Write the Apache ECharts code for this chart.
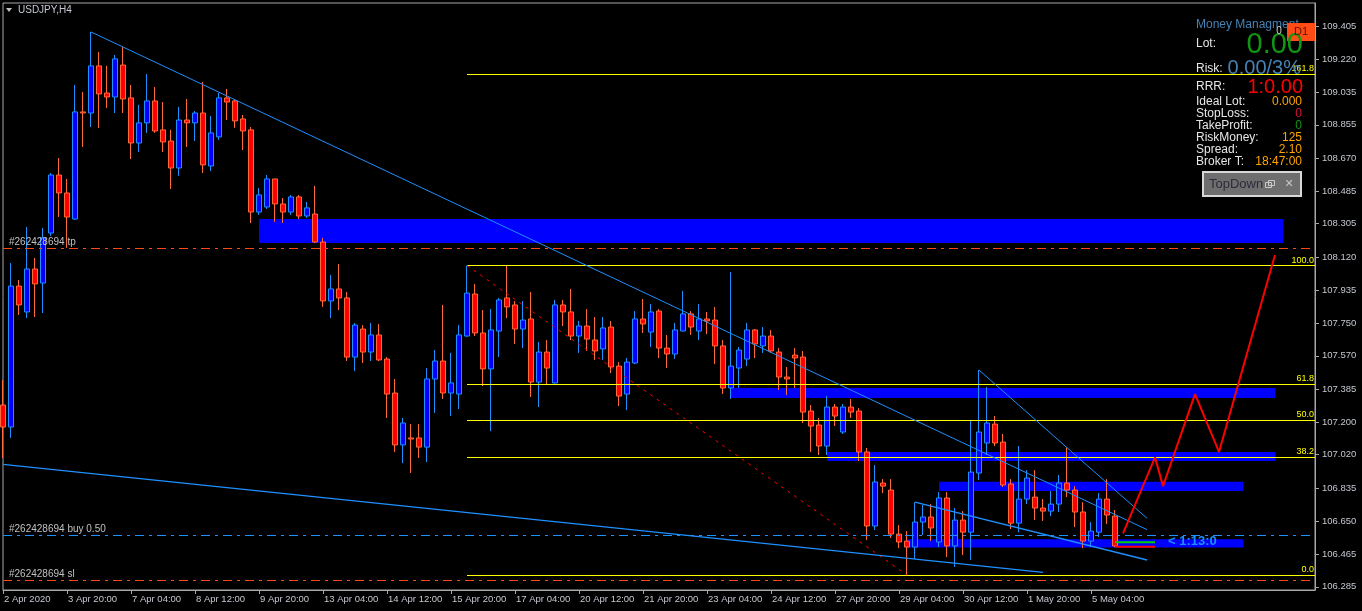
<!DOCTYPE html>
<html><head><meta charset="utf-8">
<script src="https://cdn.jsdelivr.net/npm/echarts@6/dist/echarts.min.js"></script>
<style>html,body{margin:0;padding:0;background:#000;}#c{width:1362px;height:611px;}</style>
</head><body><div id="c"></div>
<script>
// ---------- DATA ----------
const openP = [107.296,107.174,107.958,107.814,108.053,107.975,108.253,108.576,108.476,108.331,
108.927,108.921,109.183,109.032,109.010,109.188,109.005,108.754,108.866,108.988,
108.827,108.765,108.615,108.882,108.866,108.921,108.626,108.788,109.005,108.988,
108.888,108.827,108.370,108.398,108.554,108.415,108.370,108.454,108.348,108.359,
108.203,107.875,107.942,107.892,107.563,107.719,107.591,107.686,107.552,107.363,
107.074,107.113,107.113,107.062,107.441,107.541,107.363,107.357,107.680,107.914,
107.697,107.497,107.708,107.892,107.853,107.719,107.775,107.424,107.591,107.419,
107.853,107.814,107.680,107.736,107.658,107.608,107.730,107.513,107.357,107.530,
107.775,107.702,107.819,107.613,107.580,107.708,107.803,107.708,107.775,107.769,
107.625,107.391,107.502,107.552,107.714,107.625,107.680,107.591,107.452,107.574,
107.563,107.263,107.185,107.068,107.285,107.146,107.285,107.263,107.035,106.623,
106.862,106.823,106.578,106.539,106.506,106.645,106.673,106.534,106.779,106.512,
106.656,106.589,106.918,107.085,107.190,107.090,106.857,106.639,106.773,106.784,
106.723,106.706,106.745,106.862,106.823,106.701,106.539,106.589,106.773,106.678];
const highP = [107.435,108.086,107.992,108.287,108.114,108.281,108.587,108.671,108.554,109.077,
109.038,109.372,109.261,109.183,109.244,109.288,109.077,108.966,109.138,109.066,
108.982,108.827,108.955,108.999,108.932,109.094,108.904,109.032,109.055,108.999,
108.910,108.843,108.504,108.576,108.554,108.448,108.465,108.465,108.426,108.515,
108.226,108.020,108.081,107.925,107.753,107.741,107.753,107.747,107.563,107.441,
107.224,107.190,107.190,107.502,107.602,107.853,107.586,107.741,108.072,107.970,
107.825,107.830,107.892,108.070,107.875,107.875,107.925,107.647,107.658,107.881,
107.881,107.942,107.764,107.830,107.786,107.786,107.764,107.535,107.558,107.819,
107.886,107.858,107.830,107.686,107.753,107.931,107.819,107.858,107.814,107.842,
107.658,108.036,107.619,107.753,107.719,107.730,107.714,107.613,107.508,107.613,
107.597,107.296,107.224,107.346,107.302,107.302,107.330,107.280,107.057,106.962,
106.884,106.884,106.628,106.595,106.756,106.740,106.745,106.812,106.812,106.723,
106.706,107.207,107.491,107.396,107.235,107.135,106.884,107.068,106.934,106.934,
106.773,106.818,106.907,107.062,106.845,106.756,106.645,106.806,106.884,106.712];
const lowP = [107.001,107.113,107.797,107.780,107.786,107.808,108.237,108.342,108.170,108.326,
108.732,108.843,108.838,108.949,108.921,108.921,108.665,108.704,108.810,108.810,
108.704,108.498,108.571,108.732,108.765,108.587,108.598,108.771,108.882,108.838,
108.715,108.309,108.354,108.387,108.315,108.309,108.354,108.331,108.337,108.198,
107.842,107.780,107.825,107.541,107.485,107.530,107.541,107.541,107.224,107.035,
106.973,106.918,107.001,106.979,107.252,107.330,107.235,107.274,107.675,107.680,
107.402,107.151,107.563,107.780,107.636,107.613,107.341,107.285,107.413,107.416,
107.736,107.658,107.586,107.597,107.547,107.547,107.474,107.291,107.268,107.524,
107.697,107.619,107.558,107.502,107.552,107.705,107.686,107.658,107.691,107.524,
107.357,107.330,107.391,107.513,107.558,107.586,107.586,107.380,107.352,107.391,
107.196,107.035,107.018,107.018,107.179,107.135,107.224,106.985,106.545,106.601,
106.806,106.556,106.500,106.350,106.439,106.573,106.539,106.506,106.450,106.395,
106.461,106.434,106.879,107.018,107.068,106.840,106.606,106.589,106.745,106.656,
106.651,106.678,106.701,106.784,106.617,106.500,106.506,106.562,106.634,106.506];
const closeP = [107.174,107.958,107.853,108.053,107.970,108.226,108.576,108.476,108.342,108.927,
108.921,109.183,109.027,109.010,109.222,108.999,108.754,108.866,108.988,108.821,
108.760,108.615,108.882,108.866,108.921,108.632,108.810,109.005,108.982,108.877,
108.821,108.370,108.465,108.554,108.415,108.370,108.454,108.348,108.393,108.203,
107.875,107.942,107.892,107.563,107.741,107.591,107.686,107.547,107.357,107.074,
107.196,107.107,107.062,107.441,107.541,107.363,107.419,107.686,107.919,107.697,
107.497,107.714,107.881,107.842,107.719,107.769,107.424,107.591,107.502,107.853,
107.814,107.680,107.736,107.663,107.597,107.725,107.508,107.346,107.535,107.775,
107.747,107.814,107.613,107.580,107.714,107.803,107.730,107.775,107.764,107.625,
107.391,107.513,107.602,107.714,107.636,107.680,107.597,107.452,107.441,107.558,
107.257,107.179,107.068,107.285,107.235,107.285,107.257,107.035,106.623,106.868,
106.845,106.578,106.534,106.506,106.645,106.673,106.612,106.779,106.512,106.656,
106.589,106.923,107.146,107.196,107.085,106.851,106.639,106.773,106.890,106.723,
106.706,106.745,106.862,106.823,106.701,106.539,106.595,106.773,106.684,106.512];

const xLabels = ['2 Apr 2020','3 Apr 20:00','7 Apr 04:00','8 Apr 12:00','9 Apr 20:00','13 Apr 04:00',
'14 Apr 12:00','15 Apr 20:00','17 Apr 04:00','20 Apr 12:00','21 Apr 20:00','23 Apr 04:00',
'24 Apr 12:00','27 Apr 20:00','29 Apr 04:00','30 Apr 12:00','1 May 20:00','5 May 04:00'];
const labelEvery = 8;
const totalSlots = 165;
const yTicks = [106.285,106.465,106.650,106.835,107.020,107.200,107.385,107.570,107.750,107.935,
108.120,108.305,108.485,108.670,108.855,109.035,109.220,109.405];

// zones (blue rectangles)
const zoneFrom = [32, 91, 103, 117, 113];
const zoneTo   = [160, 159, 159, 155, 155];
const zoneHigh = [108.331, 107.391, 107.035, 106.869, 106.549];
const zoneLow  = [108.198, 107.335, 106.985, 106.818, 106.504];

// order lines
const tpPrice = 108.174, buyPrice = 106.571, slPrice = 106.322;
const orderText = ['#262428694 tp', '#262428694 buy 0.50', '#262428694 sl'];

// fibonacci
const fibFrom = 58, fibHigh = 108.072, fibLow = 106.350, fibEnd = 164;
const fibRatios = [0, 38.2, 50, 61.8, 100, 161.8];

// trend lines
const tl1 = [[11, 109.372], [143, 106.603]];
const tl2 = [[0, 106.966], [130, 106.365]];
const tlChannel = [[114, 106.756], [143, 106.434]];
const tl3 = [[122, 107.491], [143, 106.666]];
const fibBase = [[58, 108.072], [113, 106.350]];
const zigzag = [[140, 106.582], [144, 107.005], [145, 106.845], [149, 107.357], [152, 107.035], [159, 108.131]];
const greenMark = [[139, 106.532], [144, 106.532]];
const redMark = [[139, 106.508], [144, 106.508]];
const bidPrice = closeP[closeP.length - 1];

// ---------- CHART ----------
const cats = Array.from({length: totalSlots}, (_, i) => String(i));
const showIdx = (idx) => idx % labelEvery === 0 && idx / labelEvery < xLabels.length;
const FONT = 'Liberation Sans';
const axisCol = '#a8a8a8';
const txtCol = '#c4c8d0';

const candleData = openP.map((o, i) => [o, closeP[i], lowP[i], highP[i]]);

function lineSeries(data, color, width, type, z) {
  return { type: 'line', data: data, symbol: 'none', silent: true, z: z || 5,
    lineStyle: { color: color, width: width, type: type || 'solid' }, animation: false };
}

const chart = echarts.init(document.getElementById('c'), null, {renderer: 'canvas'});
const fibLines = fibRatios.map(r => {
  const lv = fibLow + (fibHigh - fibLow) * r / 100;
  return [{ coord: [fibFrom, lv], label: { formatter: r.toFixed(1) } }, { coord: [fibEnd, lv] }];
});

chart.setOption({
  backgroundColor: '#000',
  animation: false,
  grid: { left: 3, right: 47, top: 3, bottom: 21, show: true, borderColor: axisCol, borderWidth: 1, backgroundColor: '#000' },
  xAxis: {
    type: 'category', data: cats, boundaryGap: false,
    axisLine: { show: true, lineStyle: { color: axisCol } },
    axisTick: { show: true, interval: showIdx, length: 4, lineStyle: { color: axisCol } },
    axisLabel: { interval: showIdx, formatter: (v, idx) => xLabels[idx / labelEvery], color: txtCol,
      fontSize: 9.5, fontFamily: FONT, align: 'left', margin: 4, padding: [0, 0, 0, 1] },
    splitLine: { show: false }
  },
  yAxis: {
    type: 'value', position: 'right', min: 106.267, max: 109.533, scale: true,
    axisLine: { show: true, lineStyle: { color: axisCol } },
    axisTick: { show: true, customValues: yTicks, length: 4, lineStyle: { color: axisCol } },
    axisLabel: { customValues: yTicks, formatter: v => v.toFixed(3), color: txtCol, fontSize: 9.5, fontFamily: FONT, margin: 7 },
    splitLine: { show: false }
  },
  series: [
    { // blue zones
      type: 'line', data: [], z: 1, silent: true,
      markArea: { silent: true, itemStyle: { color: '#0000ff', opacity: 1 },
        data: zoneFrom.map((f, k) => [{ coord: [f, zoneHigh[k]] }, { coord: [zoneTo[k], zoneLow[k]] }]) }
    },
    { // order lines
      type: 'line', data: [], z: 2, silent: true,
      markLine: { silent: true, symbol: ['none', 'none'],
        label: { position: 'insideStartTop', color: '#c0c0c0', fontSize: 10, fontFamily: FONT, distance: [6, 1] },
        data: [
          { yAxis: tpPrice, label: { formatter: orderText[0] }, lineStyle: { color: '#ff4a14', width: 1, type: [9, 5, 3, 5] } },
          { yAxis: buyPrice, label: { formatter: orderText[1] }, lineStyle: { color: '#1e90ff', width: 1, type: [9, 5, 3, 5] } },
          { yAxis: slPrice, label: { formatter: orderText[2] }, lineStyle: { color: '#ff4a14', width: 1, type: [9, 5, 3, 5] } }
        ] }
    },
    {
      type: 'candlestick', data: candleData, barWidth: 5, z: 3, silent: true,
      itemStyle: { color: '#0000ff', color0: '#ff0000', borderColor: '#1e90ff', borderColor0: '#ff6a3a', borderWidth: 1 }
    },
    { // fib levels
      type: 'line', data: [], z: 4, silent: true,
      markLine: { silent: true, symbol: ['none', 'none'],
        lineStyle: { color: '#ffff00', width: 1, type: 'solid' },
        label: { position: 'insideEndTop', color: '#ffff00', fontSize: 9, fontFamily: FONT, distance: [1, 1] },
        data: fibLines }
    },
    lineSeries(fibBase, '#ff0000', 1, [3, 5], 5),
    lineSeries(tl1, '#1e90ff', 1, 'solid', 5),
    lineSeries(tl2, '#1e90ff', 1.4, 'solid', 5),
    lineSeries(tlChannel, '#1e90ff', 1.4, 'solid', 5),
    lineSeries(tl3, '#1e90ff', 1, 'solid', 5),
    lineSeries(zigzag, '#ff0000', 2, 'solid', 6),
    lineSeries(greenMark, '#00d000', 2, 'solid', 6),
    lineSeries(redMark, '#ff0000', 2, 'solid', 6),
    { // bid label
      type: 'line', data: [], z: 8, silent: true,
      markLine: { silent: true, symbol: ['none', 'none'], lineStyle: { opacity: 0 },
        label: { position: 'end', formatter: bidPrice.toFixed(3), backgroundColor: '#c0c0c0', color: '#000',
          fontSize: 9.5, fontFamily: FONT, padding: [2, 4, 1, 4], distance: 3 },
        data: [{ yAxis: bidPrice }] }
    }
  ],
  graphic: [
    { type: 'polygon', shape: { points: [[6, 8], [12, 8], [9, 12]] }, style: { fill: '#c0c0c0' }, z: 20 },
    { type: 'text', x: 18, y: 10, style: { text: 'USDJPY,H4', fill: txtCol, font: '10px ' + FONT, verticalAlign: 'middle' }, z: 20 },
    { type: 'text', x: 1196, y: 25, style: { text: 'Money Managment', fill: '#4682b4', font: '12px ' + FONT, verticalAlign: 'middle' }, z: 20 },
    { type: 'text', x: 1279, y: 31, style: { text: '0', fill: '#d0d0d0', font: '10px ' + FONT, verticalAlign: 'middle', align: 'center' }, z: 21 },
    { type: 'rect', shape: { x: 1287, y: 23, width: 28, height: 18 }, style: { fill: '#ff4c14' }, z: 20 },
    { type: 'text', x: 1301, y: 32, style: { text: 'D1', fill: '#5a1000', font: '11px ' + FONT, verticalAlign: 'middle', align: 'center' }, z: 21 },
    { type: 'text', x: 1196, y: 44, style: { text: 'Lot:', fill: '#e6e6e6', font: '12px ' + FONT, verticalAlign: 'middle' }, z: 20 },
    { type: 'text', x: 1303, y: 45, style: { text: '0.00', fill: '#129612', font: '29px ' + FONT, verticalAlign: 'middle', align: 'right' }, z: 20 },
    { type: 'text', x: 1196, y: 69, style: { text: 'Risk:', fill: '#e6e6e6', font: '12px ' + FONT, verticalAlign: 'middle' }, z: 20 },
    { type: 'text', x: 1301, y: 68, style: { text: '0.00/3%', fill: '#4682b4', font: '20px ' + FONT, verticalAlign: 'middle', align: 'right' }, z: 20 },
    { type: 'text', x: 1196, y: 87, style: { text: 'RRR:', fill: '#e6e6e6', font: '12px ' + FONT, verticalAlign: 'middle' }, z: 20 },
    { type: 'text', x: 1303, y: 87, style: { text: '1:0.00', fill: '#ff0000', font: '20px ' + FONT, verticalAlign: 'middle', align: 'right' }, z: 20 },
    { type: 'text', x: 1196, y: 102, style: { text: 'Ideal Lot:', fill: '#e6e6e6', font: '12px ' + FONT, verticalAlign: 'middle' }, z: 20 },
    { type: 'text', x: 1302, y: 102, style: { text: '0.000', fill: '#ffa500', font: '12px ' + FONT, verticalAlign: 'middle', align: 'right' }, z: 20 },
    { type: 'text', x: 1196, y: 114, style: { text: 'StopLoss:', fill: '#e6e6e6', font: '12px ' + FONT, verticalAlign: 'middle' }, z: 20 },
    { type: 'text', x: 1302, y: 114, style: { text: '0', fill: '#dc143c', font: '12px ' + FONT, verticalAlign: 'middle', align: 'right' }, z: 20 },
    { type: 'text', x: 1196, y: 126, style: { text: 'TakeProfit:', fill: '#e6e6e6', font: '12px ' + FONT, verticalAlign: 'middle' }, z: 20 },
    { type: 'text', x: 1302, y: 126, style: { text: '0', fill: '#129612', font: '12px ' + FONT, verticalAlign: 'middle', align: 'right' }, z: 20 },
    { type: 'text', x: 1196, y: 138, style: { text: 'RiskMoney:', fill: '#e6e6e6', font: '12px ' + FONT, verticalAlign: 'middle' }, z: 20 },
    { type: 'text', x: 1302, y: 138, style: { text: '125', fill: '#ffa500', font: '12px ' + FONT, verticalAlign: 'middle', align: 'right' }, z: 20 },
    { type: 'text', x: 1196, y: 150, style: { text: 'Spread:', fill: '#e6e6e6', font: '12px ' + FONT, verticalAlign: 'middle' }, z: 20 },
    { type: 'text', x: 1302, y: 150, style: { text: '2.10', fill: '#ffa500', font: '12px ' + FONT, verticalAlign: 'middle', align: 'right' }, z: 20 },
    { type: 'text', x: 1196, y: 162, style: { text: 'Broker T:', fill: '#e6e6e6', font: '12px ' + FONT, verticalAlign: 'middle' }, z: 20 },
    { type: 'text', x: 1302, y: 162, style: { text: '18:47:00', fill: '#ffa500', font: '12px ' + FONT, verticalAlign: 'middle', align: 'right' }, z: 20 },
    { type: 'rect', shape: { x: 1203, y: 172, width: 98, height: 24 }, style: { fill: '#6e6e6e', stroke: '#d8d8d8', lineWidth: 2 }, z: 20 },
    { type: 'text', x: 1209, y: 184.5, style: { text: 'TopDown', fill: '#2c2c3c', font: '13px ' + FONT, verticalAlign: 'middle' }, z: 21 },
    { type: 'rect', shape: { x: 1265.5, y: 182.5, width: 6, height: 5 }, style: { fill: 'none', stroke: '#c8c8c8', lineWidth: 1 }, z: 21 },
    { type: 'rect', shape: { x: 1268.5, y: 180.5, width: 6, height: 5 }, style: { fill: 'none', stroke: '#c8c8c8', lineWidth: 1 }, z: 21 },
    { type: 'text', x: 1289, y: 184.5, style: { text: '✕', fill: '#c8c8c8', font: '11px DejaVu Sans', verticalAlign: 'middle', align: 'center' }, z: 21 },
    { type: 'text', x: 1168, y: 541, style: { text: '< 1:13:0', fill: '#1e90ff', font: 'bold 13px ' + FONT, verticalAlign: 'middle' }, z: 20 }
  ]
});
</script>
</body></html>
